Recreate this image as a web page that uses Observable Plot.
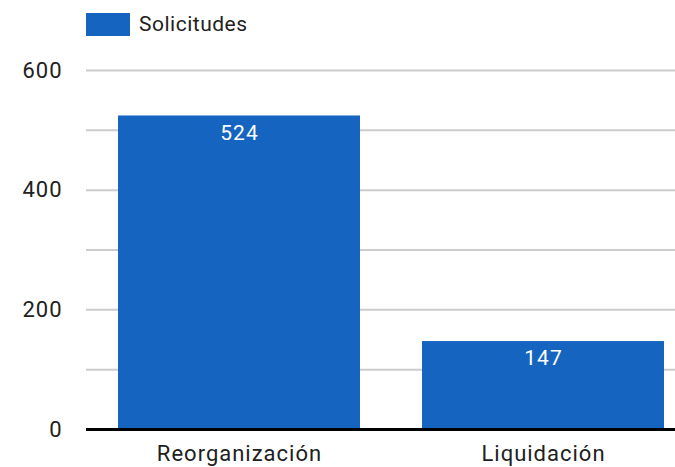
<!DOCTYPE html>
<html>
<head>
<meta charset="utf-8">
<script src="https://cdn.jsdelivr.net/npm/d3@7"></script>
<script src="https://cdn.jsdelivr.net/npm/@observablehq/plot@0.6"></script>
<style>
  html, body { margin: 0; padding: 0; background: #fff; }
  body { width: 675px; height: 467px; overflow: hidden; font-family: Roboto, sans-serif; color: #212121; }
  #legend { height: 46px; position: relative; }
  #legend .sw { position: absolute; left: 86px; top: 13px; width: 44px; height: 23px; background: #1565C0; }
  #legend .lb { position: absolute; left: 139px; top: 11px; font-size: 21px; line-height: 26px; letter-spacing: 0.5px; }
  #chart svg { display: block; }
  #chart svg text { letter-spacing: 1px; }
</style>
</head>
<body>
<div id="legend"><span class="sw"></span><span class="lb" id="legendLabel"></span></div>
<div id="chart"></div>
<script>
const seriesName = "Solicitudes";
const categories = ["Reorganización", "Liquidación"];
const values = [524, 147];
const yTicks = [0, 200, 400, 600];
const yGrid = [100, 200, 300, 400, 500, 600];

document.getElementById("legendLabel").textContent = seriesName;

const data = categories.map((c, i) => ({category: c, value: values[i]}));
const blue = "#1565C0";

const chart = Plot.plot({
  width: 675,
  height: 421,
  marginTop: 24,
  marginBottom: 38,
  marginLeft: 86,
  marginRight: 0,
  style: {fontFamily: "Roboto, sans-serif", fontSize: "22px", color: "#212121", background: "#fff", overflow: "visible"},
  x: {domain: categories, paddingInner: 0.204, paddingOuter: 0.0707, align: 0.744, label: null, tickSize: 0, tickPadding: 16},
  y: {domain: [0, 600], label: null, ticks: yTicks, tickSize: 0, tickPadding: 24},
  marks: [
    Plot.ruleY(yGrid, {stroke: "#cccccc", strokeWidth: 2}),
    Plot.barY(data, {x: "category", y: "value", fill: blue}),
    Plot.text(data, {x: "category", y: "value", text: d => String(d.value), fill: "#fff", dy: 17, fontSize: 21}),
    Plot.ruleY([0], {stroke: "#000", strokeWidth: 3})
  ]
});
document.getElementById("chart").appendChild(chart);
</script>
</body>
</html>
